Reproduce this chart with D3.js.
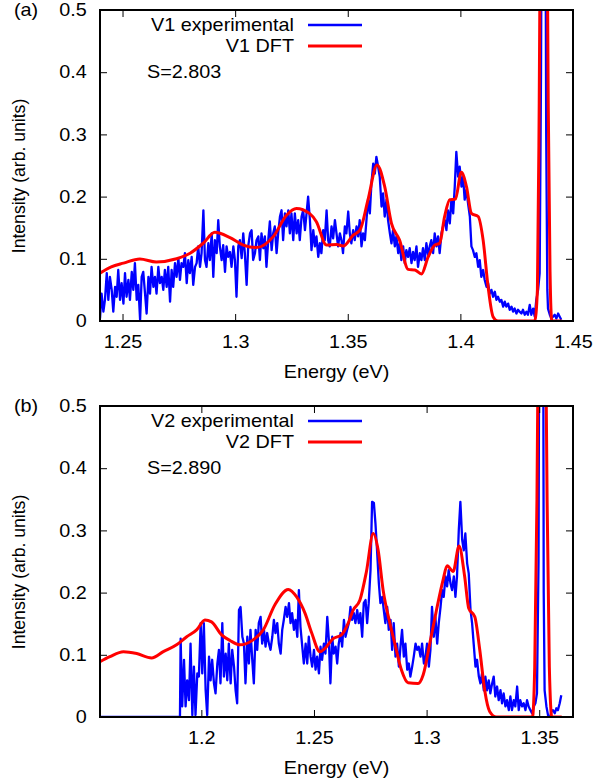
<!DOCTYPE html>
<html><head><meta charset="utf-8">
<script src="https://cdn.jsdelivr.net/npm/d3@7"></script>
<style>body{margin:0;background:#fff}svg{display:block}text{font-family:"Liberation Sans",Arial,Helvetica,sans-serif}</style>
</head><body>
<script>
// ---------- data ----------
const yTicks = [0, 0.1, 0.2, 0.3, 0.4, 0.5];
const yTickLabels = ["0", "0.1", "0.2", "0.3", "0.4", "0.5"];
const xTicksA = [1.25, 1.3, 1.35, 1.4, 1.45];
const xTickLabelsA = ["1.25", "1.3", "1.35", "1.4", "1.45"];
const xTicksB = [1.2, 1.25, 1.3, 1.35];
const xTickLabelsB = ["1.2", "1.25", "1.3", "1.35"];
const xDomainA = [1.24, 1.45];
const xDomainB = [1.155, 1.365];
const yDomain = [0, 0.5];
const legendA = ["V1 experimental", "V1 DFT"];
const legendB = ["V2 experimental", "V2 DFT"];
const sLabelA = "S=2.803";
const sLabelB = "S=2.890";

const expA = [
[1.2400,0.004],[1.2407,0.044],[1.2415,0.015],[1.2422,0.034],[1.2430,0.077],[1.2437,0.034],[1.2444,0.071],[1.2452,0.050],[1.2459,0.015],[1.2467,0.055],
[1.2474,0.039],[1.2481,0.082],[1.2489,0.034],[1.2496,0.061],[1.2504,0.028],[1.2511,0.077],[1.2518,0.039],[1.2526,0.066],[1.2533,0.034],[1.2541,0.079],
[1.2548,0.050],[1.2555,0.093],[1.2563,0.034],[1.2570,0.058],[1.2578,0.002],[1.2585,0.071],[1.2592,0.079],[1.2600,0.044],[1.2607,0.012],[1.2615,0.071],
[1.2622,0.044],[1.2629,0.087],[1.2637,0.055],[1.2644,0.071],[1.2651,0.044],[1.2659,0.087],[1.2666,0.061],[1.2674,0.071],[1.2681,0.050],[1.2688,0.082],
[1.2696,0.055],[1.2703,0.087],[1.2711,0.031],[1.2718,0.082],[1.2725,0.055],[1.2733,0.093],[1.2740,0.071],[1.2748,0.101],[1.2755,0.066],[1.2762,0.093],
[1.2770,0.087],[1.2777,0.109],[1.2785,0.061],[1.2792,0.098],[1.2799,0.077],[1.2807,0.103],[1.2814,0.058],[1.2822,0.087],[1.2829,0.093],[1.2836,0.120],
[1.2844,0.087],[1.2851,0.109],[1.2859,0.178],[1.2866,0.098],[1.2873,0.087],[1.2881,0.125],[1.2888,0.098],[1.2896,0.141],[1.2903,0.071],[1.2910,0.130],
[1.2918,0.109],[1.2925,0.162],[1.2932,0.120],[1.2940,0.098],[1.2947,0.122],[1.2955,0.079],[1.2962,0.120],[1.2969,0.103],[1.2977,0.111],[1.2984,0.087],
[1.2992,0.120],[1.2999,0.098],[1.3006,0.039],[1.3014,0.120],[1.3021,0.130],[1.3029,0.101],[1.3036,0.141],[1.3043,0.109],[1.3051,0.058],[1.3058,0.120],
[1.3066,0.141],[1.3073,0.146],[1.3080,0.098],[1.3088,0.109],[1.3095,0.130],[1.3103,0.136],[1.3110,0.098],[1.3117,0.141],[1.3125,0.117],[1.3132,0.136],
[1.3139,0.087],[1.3147,0.130],[1.3154,0.160],[1.3162,0.114],[1.3169,0.141],[1.3176,0.152],[1.3184,0.109],[1.3191,0.141],[1.3199,0.168],[1.3206,0.178],
[1.3213,0.130],[1.3221,0.173],[1.3228,0.152],[1.3236,0.178],[1.3243,0.141],[1.3250,0.173],[1.3258,0.130],[1.3265,0.173],[1.3273,0.141],[1.3280,0.162],
[1.3287,0.130],[1.3295,0.168],[1.3302,0.178],[1.3310,0.146],[1.3317,0.173],[1.3324,0.200],[1.3332,0.162],[1.3339,0.114],[1.3347,0.146],[1.3354,0.120],
[1.3361,0.136],[1.3369,0.103],[1.3376,0.125],[1.3383,0.109],[1.3391,0.146],[1.3398,0.130],[1.3406,0.178],[1.3413,0.130],[1.3420,0.120],[1.3428,0.152],
[1.3435,0.133],[1.3443,0.162],[1.3450,0.141],[1.3457,0.120],[1.3465,0.141],[1.3472,0.130],[1.3479,0.109],[1.3487,0.152],[1.3494,0.141],[1.3502,0.176],
[1.3509,0.141],[1.3516,0.125],[1.3524,0.146],[1.3531,0.130],[1.3539,0.152],[1.3546,0.136],[1.3553,0.162],[1.3561,0.120],[1.3568,0.141],[1.3576,0.130],
[1.3583,0.162],[1.3590,0.195],[1.3598,0.173],[1.3605,0.221],[1.3613,0.253],[1.3620,0.237],[1.3627,0.264],[1.3635,0.248],[1.3642,0.232],[1.3650,0.184],
[1.3657,0.205],[1.3664,0.168],[1.3672,0.195],[1.3679,0.162],[1.3687,0.141],[1.3694,0.125],[1.3701,0.146],[1.3709,0.120],[1.3716,0.136],[1.3724,0.109],
[1.3731,0.125],[1.3738,0.098],[1.3746,0.120],[1.3753,0.093],[1.3760,0.114],[1.3768,0.103],[1.3775,0.117],[1.3783,0.093],[1.3790,0.111],[1.3797,0.098],
[1.3805,0.120],[1.3812,0.087],[1.3820,0.109],[1.3827,0.098],[1.3834,0.117],[1.3842,0.098],[1.3849,0.125],[1.3857,0.106],[1.3864,0.120],[1.3871,0.130],
[1.3879,0.109],[1.3886,0.141],[1.3894,0.120],[1.3901,0.136],[1.3908,0.109],[1.3916,0.141],[1.3923,0.152],[1.3931,0.162],[1.3938,0.146],[1.3945,0.178],
[1.3953,0.157],[1.3960,0.195],[1.3968,0.173],[1.3975,0.216],[1.3982,0.272],[1.3990,0.232],[1.3997,0.248],[1.4005,0.216],[1.4012,0.232],[1.4019,0.195],
[1.4027,0.211],[1.4034,0.189],[1.4042,0.168],[1.4049,0.120],[1.4056,0.114],[1.4064,0.103],[1.4071,0.109],[1.4079,0.087],[1.4086,0.098],[1.4093,0.071],
[1.4101,0.082],[1.4108,0.066],[1.4116,0.055],[1.4123,0.061],[1.4130,0.044],[1.4138,0.050],[1.4145,0.039],[1.4153,0.047],[1.4160,0.034],[1.4167,0.039],
[1.4175,0.031],[1.4182,0.034],[1.4190,0.023],[1.4197,0.031],[1.4204,0.023],[1.4212,0.028],[1.4219,0.018],[1.4227,0.023],[1.4234,0.015],[1.4241,0.020],
[1.4249,0.012],[1.4256,0.018],[1.4263,0.015],[1.4271,0.012],[1.4278,0.018],[1.4286,0.010],[1.4293,0.015],[1.4300,0.010],[1.4308,0.026],[1.4315,0.010],
[1.4323,0.020],[1.4330,0.007],[1.4337,0.034],[1.4345,0.050],[1.4352,0.077],[1.4358,0.400],[1.4363,0.900],[1.4370,1.000],[1.4376,0.900],[1.4381,0.300],
[1.4386,0.050],[1.4389,0.020],[1.4397,0.010],[1.4404,0.004],[1.4411,0.007],[1.4419,0.010],[1.4426,0.004],[1.4434,0.012],[1.4441,0.007],[1.4448,0.002]
];

const dftA = [
[1.2400,0.077],[1.2450,0.087],[1.2504,0.093],[1.2577,0.0997],[1.2650,0.095],[1.2740,0.100],[1.2800,0.109],[1.2858,0.125],
[1.2910,0.1425],[1.2977,0.134],[1.3036,0.122],[1.3095,0.118],[1.3170,0.136],[1.3228,0.170],[1.3272,0.181],[1.3330,0.173],
[1.3360,0.160],[1.3406,0.122],[1.3450,0.123],[1.3480,0.1206],[1.3524,0.138],[1.3554,0.146],[1.3590,0.195],[1.3630,0.251],
[1.3664,0.216],[1.3694,0.157],[1.3730,0.130],[1.3768,0.083],[1.3798,0.082],[1.3827,0.0756],[1.3857,0.103],[1.3886,0.122],
[1.3908,0.125],[1.3930,0.168],[1.3953,0.195],[1.3978,0.196],[1.4004,0.239],[1.4027,0.216],[1.4049,0.173],[1.4079,0.168],
[1.4101,0.130],[1.4123,0.055],[1.4145,0.007],[1.4167,0.0],[1.4330,0.0],[1.4342,0.05],[1.4350,0.35],[1.4358,0.8],
[1.4370,1.0],[1.4382,0.8],[1.4390,0.35],[1.4398,0.08],[1.4406,0.0],[1.4450,0.0]
];

const expB = [
[1.1550,0],[1.1905,0],
[1.1908,0.126],[1.1915,0.017],[1.1923,0.092],[1.1930,0.017],[1.1937,0.059],[1.1945,0.027],[1.1952,0.118],[1.1960,0.003],[1.1967,0.081],[1.1974,0.003],
[1.1982,0.070],[1.1989,0.065],[1.1997,0.151],[1.2004,0.070],[1.2011,0.151],[1.2019,0.043],[1.2026,0.003],[1.2034,0.097],[1.2041,0.059],[1.2048,0.092],
[1.2056,0.054],[1.2063,0.038],[1.2071,0.086],[1.2078,0.108],[1.2085,0.054],[1.2093,0.151],[1.2100,0.065],[1.2108,0.102],[1.2115,0.059],[1.2122,0.118],
[1.2130,0.054],[1.2137,0.108],[1.2145,0.081],[1.2152,0.043],[1.2159,0.022],[1.2167,0.172],[1.2174,0.177],[1.2182,0.129],[1.2189,0.118],[1.2196,0.054],
[1.2204,0.129],[1.2211,0.086],[1.2218,0.140],[1.2226,0.092],[1.2233,0.054],[1.2241,0.140],[1.2248,0.108],[1.2255,0.151],[1.2263,0.161],[1.2270,0.118],
[1.2278,0.140],[1.2285,0.113],[1.2292,0.135],[1.2300,0.118],[1.2307,0.108],[1.2315,0.129],[1.2322,0.156],[1.2329,0.135],[1.2337,0.151],[1.2344,0.118],
[1.2352,0.102],[1.2359,0.140],[1.2366,0.156],[1.2374,0.177],[1.2381,0.161],[1.2389,0.183],[1.2396,0.151],[1.2403,0.167],[1.2411,0.140],[1.2418,0.156],
[1.2426,0.129],[1.2433,0.204],[1.2440,0.145],[1.2448,0.113],[1.2455,0.086],[1.2463,0.118],[1.2470,0.086],[1.2477,0.129],[1.2485,0.097],[1.2492,0.081],
[1.2500,0.108],[1.2507,0.076],[1.2514,0.097],[1.2522,0.070],[1.2529,0.113],[1.2536,0.092],[1.2544,0.118],[1.2551,0.102],[1.2559,0.161],[1.2566,0.124],
[1.2573,0.054],[1.2581,0.129],[1.2588,0.102],[1.2596,0.113],[1.2603,0.086],[1.2610,0.118],[1.2618,0.135],[1.2625,0.113],[1.2633,0.156],[1.2640,0.129],
[1.2647,0.140],[1.2655,0.151],[1.2662,0.177],[1.2669,0.156],[1.2677,0.167],[1.2684,0.151],[1.2692,0.172],[1.2699,0.151],[1.2706,0.167],[1.2714,0.129],
[1.2721,0.183],[1.2729,0.188],[1.2736,0.151],[1.2743,0.183],[1.2751,0.236],[1.2758,0.346],[1.2766,0.344],[1.2773,0.311],[1.2780,0.268],[1.2788,0.215],
[1.2795,0.183],[1.2803,0.193],[1.2810,0.172],[1.2817,0.151],[1.2825,0.177],[1.2832,0.140],[1.2840,0.156],[1.2847,0.108],[1.2854,0.151],[1.2862,0.097],
[1.2869,0.118],[1.2877,0.081],[1.2884,0.113],[1.2891,0.140],[1.2899,0.097],[1.2906,0.118],[1.2914,0.076],[1.2921,0.086],[1.2928,0.065],[1.2936,0.081],
[1.2943,0.097],[1.2951,0.118],[1.2958,0.108],[1.2965,0.113],[1.2973,0.097],[1.2980,0.118],[1.2988,0.086],[1.2995,0.097],[1.3002,0.118],[1.3010,0.081],
[1.3017,0.108],[1.3024,0.177],[1.3032,0.129],[1.3039,0.161],[1.3047,0.118],[1.3054,0.151],[1.3062,0.177],[1.3069,0.204],[1.3076,0.193],[1.3084,0.226],
[1.3091,0.210],[1.3098,0.236],[1.3106,0.215],[1.3113,0.204],[1.3121,0.226],[1.3128,0.193],[1.3135,0.226],[1.3143,0.301],[1.3150,0.346],[1.3158,0.285],
[1.3165,0.268],[1.3172,0.295],[1.3180,0.247],[1.3187,0.231],[1.3195,0.172],[1.3202,0.151],[1.3209,0.118],[1.3217,0.081],[1.3224,0.092],[1.3232,0.065],
[1.3239,0.054],[1.3246,0.070],[1.3254,0.043],[1.3261,0.065],[1.3268,0.043],[1.3276,0.059],[1.3283,0.038],[1.3291,0.054],[1.3298,0.065],[1.3305,0.033],
[1.3313,0.049],[1.3320,0.027],[1.3328,0.043],[1.3335,0.022],[1.3342,0.038],[1.3350,0.017],[1.3357,0.027],[1.3365,0.011],[1.3372,0.033],[1.3379,0.011],
[1.3387,0.027],[1.3394,0.017],[1.3402,0.049],[1.3409,0.011],[1.3416,0.027],[1.3424,0.017],[1.3431,0.022],[1.3439,0.011],[1.3446,0.027],[1.3453,0.017],
[1.3461,0.011],[1.3468,0.006],[1.3476,0.017],[1.3483,0.022],[1.3490,0.038],[1.3497,0.250],[1.3502,0.900],[1.3507,1.000],[1.3512,1.000],[1.3517,0.800],
[1.3520,0.200],[1.3524,0.043],[1.3532,0.017],[1.3539,0.003],[1.3546,-0.005],[1.3554,0.009],[1.3561,0.011],[1.3569,0.006],[1.3576,0.014],[1.3583,0.011],
[1.3591,0.022],[1.3598,0.035]
];

const dftB = [
[1.1550,0.089],[1.1594,0.097],[1.1654,0.105],[1.1713,0.102],[1.1779,0.095],[1.1831,0.105],[1.1890,0.116],[1.1935,0.129],
[1.1979,0.140],[1.2016,0.156],[1.2045,0.153],[1.2090,0.132],[1.2127,0.123],[1.2171,0.116],[1.2230,0.124],[1.2275,0.140],
[1.2326,0.180],[1.2386,0.205],[1.2423,0.193],[1.2460,0.167],[1.2490,0.135],[1.2526,0.105],[1.2548,0.110],[1.2585,0.126],
[1.2622,0.132],[1.2652,0.151],[1.2674,0.172],[1.2704,0.188],[1.2733,0.234],[1.2763,0.295],[1.2785,0.268],[1.2807,0.204],
[1.2837,0.151],[1.2859,0.118],[1.2888,0.076],[1.2918,0.055],[1.2962,0.054],[1.2985,0.068],[1.3014,0.118],[1.3044,0.172],
[1.3073,0.220],[1.3091,0.243],[1.3118,0.234],[1.3144,0.275],[1.3169,0.226],[1.3187,0.175],[1.3214,0.161],[1.3236,0.108],
[1.3258,0.043],[1.3280,0.009],[1.3310,0.0],[1.3470,0.0],[1.3480,0.08],[1.3490,0.35],[1.3500,0.8],[1.3512,1.0],
[1.3524,0.8],[1.3535,0.35],[1.3545,0.08],[1.3556,0.0],[1.3600,0.0]
];

// ---------- layout ----------
const W = 597, H = 783;
const FONT = 18;
const STRETCH = 1.1;   // glyphs in the reference are slightly wider than Liberation Sans
const BLUE = "#0000ff", RED = "#ff0000";
const svg = d3.select("body").append("svg").attr("width", W).attr("height", H);

function hText(parent, x, y, str, anchor, dy) {
  return parent.append("text")
    .attr("transform", `translate(${x},${y}) scale(${STRETCH},1)`)
    .attr("text-anchor", anchor || "start").attr("dy", dy || null)
    .attr("font-size", FONT).attr("fill", "#000").text(str);
}

function panel(id, cfg) {
  const left = 100, right = 573, top = cfg.top, bottom = cfg.top + 311;
  const x = d3.scaleLinear().domain(cfg.xDomain).range([left, right]);
  const y = d3.scaleLinear().domain(yDomain).range([bottom, top]);
  const g = svg.append("g");

  svg.append("clipPath").attr("id", id).append("rect")
    .attr("x", left).attr("y", top).attr("width", right - left).attr("height", bottom - top);

  const line = d3.line().x(d => x(d[0])).y(d => y(d[1]));
  const smooth = d3.line().x(d => x(d[0])).y(d => y(d[1])).curve(d3.curveMonotoneX);

  const plot = g.append("g").attr("clip-path", `url(#${id})`);
  plot.append("path").datum(cfg.exp).attr("d", line)
    .attr("fill", "none").attr("stroke", BLUE).attr("stroke-width", 2.3).attr("stroke-linejoin", "round");
  plot.append("path").datum(cfg.dft).attr("d", smooth)
    .attr("fill", "none").attr("stroke", RED).attr("stroke-width", 3).attr("stroke-linejoin", "round");

  const styleAxis = sel => {
    sel.select(".domain").remove();
    sel.selectAll(".tick line").attr("stroke", "#000").attr("stroke-width", 1);
    sel.selectAll("text").attr("font-size", FONT).attr("fill", "#000")
      .attr("font-family", '"Liberation Sans", Arial, sans-serif')
      .attr("transform", `scale(${STRETCH},1)`);
  };
  g.append("g").attr("transform", `translate(0,${bottom})`)
    .call(d3.axisBottom(x).tickValues(cfg.xTicks).tickFormat((d, i) => cfg.xLabels[i]).tickSizeInner(-7).tickSizeOuter(0).tickPadding(14))
    .call(styleAxis);
  g.append("g").attr("transform", `translate(0,${top})`)
    .call(d3.axisTop(x).tickValues(cfg.xTicks).tickFormat("").tickSizeInner(-7).tickSizeOuter(0))
    .call(styleAxis);
  g.append("g").attr("transform", `translate(${left},0)`)
    .call(d3.axisLeft(y).tickValues(yTicks).tickFormat((d, i) => yTickLabels[i]).tickSizeInner(-7).tickSizeOuter(0).tickPadding(12))
    .call(styleAxis);
  g.append("g").attr("transform", `translate(${right},0)`)
    .call(d3.axisRight(y).tickValues(yTicks).tickFormat("").tickSizeInner(-7).tickSizeOuter(0))
    .call(styleAxis);

  g.append("rect").attr("x", left).attr("y", top).attr("width", right - left).attr("height", bottom - top)
    .attr("fill", "none").attr("stroke", "#000").attr("stroke-width", 2);

  cfg.legend.forEach((t, i) => {
    const ly = top + 15 + i * 21;
    hText(g, 294, ly, t, "end", "0.35em");
    g.append("line").attr("x1", 308).attr("x2", 362).attr("y1", ly).attr("y2", ly)
      .attr("stroke", i === 0 ? BLUE : RED).attr("stroke-width", i === 0 ? 2.3 : 3);
  });
  hText(g, 147, top + 62, cfg.sLabel, "start", "0.35em");

  hText(g, 14, top + 6, cfg.tag, "start");

  hText(g, (left + right) / 2, bottom + 57, "Energy (eV)", "middle");
  g.append("text").attr("transform", `translate(25,${top + 166}) rotate(-90)`).attr("text-anchor", "middle")
    .attr("font-size", 17.6).attr("fill", "#000").text("Intensity (arb. units)");
}

panel("clipA", { top: 10, xDomain: xDomainA, xTicks: xTicksA, xLabels: xTickLabelsA, exp: expA, dft: dftA,
  legend: legendA, sLabel: sLabelA, tag: "(a)" });
panel("clipB", { top: 406, xDomain: xDomainB, xTicks: xTicksB, xLabels: xTickLabelsB, exp: expB, dft: dftB,
  legend: legendB, sLabel: sLabelB, tag: "(b)" });
</script>
</body></html>
